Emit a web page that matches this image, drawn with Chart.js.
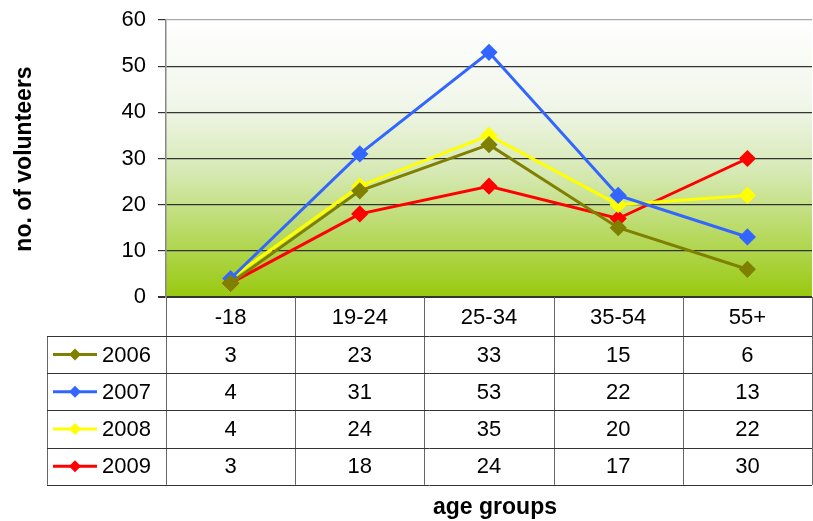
<!DOCTYPE html>
<html>
<head>
<meta charset="utf-8">
<script src="https://cdn.jsdelivr.net/npm/chart.js@4"></script>
<style>
    html, body { margin: 0; padding: 0; background: #fff; overflow: hidden; }
    #wrap { width: 813px; height: 521px; }
    canvas { display: block; }
</style>
</head>
<body>
<div id="wrap"><canvas id="chart-voluntarios" width="813" height="521"></canvas></div>
<script>
/* global Chart */

const ageGroups = ['-18', '19-24', '25-34', '35-54', '55+'];
const years = ['2006', '2007', '2008', '2009'];
const values2006 = [3, 23, 33, 15, 6];
const values2007 = [4, 31, 53, 22, 13];
const values2008 = [4, 24, 35, 20, 22];
const values2009 = [3, 18, 24, 17, 30];
const seriesColors = ['#808000', '#3366ff', '#ffff00', '#ff0000'];
const yTicks = [0, 10, 20, 30, 40, 50, 60];

const FONT = '"Liberation Sans", Arial, sans-serif';

function makeDataset(label, data, color) {
    return {
        label,
        data,
        borderColor: color,
        backgroundColor: color,
        borderWidth: 3,
        pointStyle: 'rectRot',
        pointRadius: 6.5,
        pointHoverRadius: 6.5,
        tension: 0,
        fill: false,
    };
}

const plotBackground = {
    id: 'plotBackground',
    beforeDraw(chart) {
        const { ctx, chartArea: a } = chart;
        const g = ctx.createLinearGradient(0, a.top, 0, a.bottom);
        g.addColorStop(0, '#ffffff');
        g.addColorStop(0.3, '#f1f6ea');
        g.addColorStop(0.55, '#d6e9b4');
        g.addColorStop(1, '#98c90e');
        ctx.save();
        ctx.fillStyle = g;
        ctx.fillRect(a.left, a.top, a.right - a.left, a.bottom - a.top);
        ctx.restore();
    },
};

const dataTable = {
    id: 'dataTable',
    afterDraw(chart) {
        const { ctx, chartArea: a } = chart;
        const xs = chart.scales.x;
        const colW = (a.right - a.left) / ageGroups.length;
        const headTop = a.bottom;
        const headBottom = 336;
        const rowH = 37.2;
        const tableBottom = headBottom + rowH * years.length;
        const legLeft = 47;

        ctx.save();
        ctx.lineWidth = 1;
        ctx.strokeStyle = '#666';

        // vertical lines of the header and body
        for (let i = 0; i <= ageGroups.length; i++) {
            const x = Math.round(a.left + colW * i) + 0.5;
            ctx.beginPath();
            ctx.moveTo(x, headTop);
            ctx.lineTo(x, tableBottom);
            ctx.stroke();
        }
        // legend column left border
        ctx.beginPath();
        ctx.moveTo(legLeft + 0.5, headBottom);
        ctx.lineTo(legLeft + 0.5, tableBottom);
        ctx.stroke();

        // horizontal lines
        ctx.strokeStyle = '#333';
        for (let r = 0; r <= years.length; r++) {
            const y = Math.round(headBottom + rowH * r) + 0.5;
            ctx.beginPath();
            ctx.moveTo(legLeft, y);
            ctx.lineTo(a.right, y);
            ctx.stroke();
        }

        ctx.fillStyle = '#000';
        ctx.font = '22px ' + FONT;
        ctx.textBaseline = 'middle';
        ctx.textAlign = 'center';

        ageGroups.forEach((label, i) => {
            ctx.fillText(label, xs.getPixelForValue(i), (headTop + headBottom) / 2 + 1);
        });

        chart.data.datasets.forEach((ds, r) => {
            const cy = headBottom + rowH * r + rowH / 2 + 1;
            ds.data.forEach((v, i) => {
                ctx.textAlign = 'center';
                ctx.fillText(String(v), xs.getPixelForValue(i), cy);
            });

            // legend key
            ctx.strokeStyle = ds.borderColor;
            ctx.fillStyle = ds.borderColor;
            ctx.lineWidth = 3;
            ctx.beginPath();
            ctx.moveTo(53, cy - 1);
            ctx.lineTo(97, cy - 1);
            ctx.stroke();
            ctx.beginPath();
            ctx.moveTo(75, cy - 7);
            ctx.lineTo(81, cy - 1);
            ctx.lineTo(75, cy + 5);
            ctx.lineTo(69, cy - 1);
            ctx.closePath();
            ctx.fill();

            ctx.fillStyle = '#000';
            ctx.textAlign = 'left';
            ctx.fillText(ds.label, 102, cy);
        });

        // axis titles
        ctx.font = 'bold 23px ' + FONT;
        ctx.textAlign = 'center';
        ctx.fillText('age groups', 495, 508);

        ctx.translate(25, 159);
        ctx.rotate(-Math.PI / 2);
        ctx.fillText('no. of volunteers', 0, 0);
        ctx.restore();
    },
};

function createVolunteerChart() {
    const canvas = document.getElementById('chart-voluntarios');

    return new Chart(canvas, {
        type: 'line',
        data: {
            labels: ageGroups,
            datasets: [
                makeDataset(years[0], values2006, seriesColors[0]),
                makeDataset(years[1], values2007, seriesColors[1]),
                makeDataset(years[2], values2008, seriesColors[2]),
                makeDataset(years[3], values2009, seriesColors[3]),
            ],
        },
        options: {
            responsive: false,
            animation: false,
            devicePixelRatio: 1,
            layout: {
                autoPadding: false,
                padding: { left: 0, top: 20, right: 1, bottom: 224 },
            },
            plugins: {
                legend: { display: false },
                tooltip: { enabled: false },
            },
            scales: {
                x: {
                    type: 'category',
                    offset: true,
                    display: false,
                },
                y: {
                    min: 0,
                    max: 60,
                    afterFit(axis) {
                        axis.width = 166;
                        axis.paddingTop = 0;
                        axis.paddingBottom = 0;
                    },
                    afterBuildTicks(axis) {
                        axis.ticks = yTicks.map(v => ({ value: v }));
                    },
                    border: {
                        display: true,
                        color: '#888',
                        width: 1.5,
                    },
                    grid: {
                        color: ctx => (ctx.tick && ctx.tick.value === 60 ? '#aaa' : '#333'),
                        lineWidth: ctx => (ctx.tick && ctx.tick.value === 0 ? 2 : 1.2),
                        tickLength: 8,
                        tickColor: '#333',
                    },
                    ticks: {
                        color: '#000',
                        padding: 12,
                        font: { family: FONT, size: 22 },
                    },
                },
            },
        },
        plugins: [plotBackground, dataTable],
    });
}

createVolunteerChart();
</script>
</body>
</html>
